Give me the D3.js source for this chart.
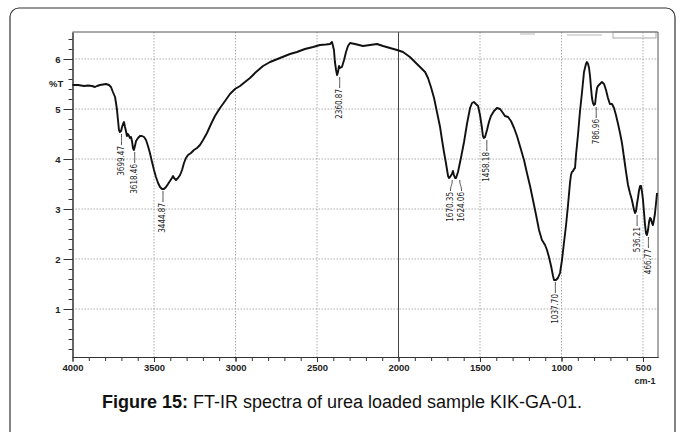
<!DOCTYPE html>
<html>
<head>
<meta charset="utf-8">
<script src="https://cdn.jsdelivr.net/npm/d3@7"></script>
<style>
body { margin: 0; background: #fff; }
svg { display: block; font-family: "Liberation Sans", Arial, sans-serif; }
</style>
</head>
<body>
<div class="svg-container"></div>
<script>
// spectrum: wavenumber (cm-1) and %T
var wavenumber = [4000, 3966, 3929, 3905, 3880, 3862, 3850, 3831, 3813, 3794, 3776, 3764, 3752, 3739, 3733, 3727, 3721, 3715, 3709, 3702,
    3696, 3690, 3684, 3678, 3672, 3666, 3660, 3653, 3647, 3641, 3635, 3629, 3623, 3617, 3610, 3598, 3586, 3574, 3561, 3549,
    3537, 3525, 3512, 3500, 3488, 3475, 3463, 3451, 3439, 3426, 3414, 3402, 3390, 3383, 3377, 3365, 3353, 3340, 3328, 3316,
    3304, 3291, 3273, 3255, 3236, 3218, 3199, 3175, 3150, 3126, 3095, 3064, 3034, 3003, 2972, 2942, 2911, 2874, 2831, 2788,
    2727, 2666, 2623, 2574, 2524, 2482, 2445, 2420, 2408, 2396, 2390, 2383, 2377, 2371, 2365, 2359, 2347, 2334, 2322, 2310,
    2297, 2267, 2218, 2175, 2132, 2095, 2052, 2009, 1972, 1930, 1899, 1868, 1837, 1819, 1801, 1782, 1764, 1745, 1733, 1721,
    1709, 1696, 1690, 1684, 1672, 1666, 1660, 1653, 1647, 1635, 1617, 1598, 1580, 1561, 1549, 1537, 1525, 1512, 1500, 1488,
    1482, 1476, 1469, 1457, 1445, 1433, 1414, 1396, 1377, 1359, 1347, 1328, 1310, 1291, 1273, 1255, 1230, 1212, 1193, 1175,
    1156, 1138, 1120, 1101, 1089, 1077, 1064, 1052, 1046, 1034, 1022, 1009, 997, 985, 972, 960, 948, 942, 936, 929,
    923, 917, 911, 899, 887, 874, 862, 850, 844, 837, 831, 825, 819, 813, 807, 801, 794, 788, 782, 776,
    764, 752, 739, 727, 715, 703, 690, 678, 666, 653, 641, 629, 617, 604, 592, 580, 568, 555, 549, 543,
    537, 531, 525, 518, 512, 506, 500, 494, 488, 482, 476, 469, 463, 457, 451, 445, 439, 433, 427, 420, 414];
var transmittance = [5.48, 5.48, 5.46, 5.47, 5.46, 5.44, 5.46, 5.48, 5.49, 5.50, 5.48, 5.44, 5.34, 5.24, 5.12, 4.98, 4.78, 4.58, 4.54, 4.56,
    4.64, 4.70, 4.74, 4.64, 4.56, 4.46, 4.50, 4.46, 4.42, 4.44, 4.36, 4.22, 4.18, 4.26, 4.36, 4.42, 4.46, 4.46, 4.44, 4.38,
    4.26, 4.12, 3.94, 3.78, 3.64, 3.52, 3.44, 3.40, 3.40, 3.44, 3.50, 3.56, 3.62, 3.66, 3.62, 3.58, 3.62, 3.68, 3.78, 3.92,
    4.02, 4.08, 4.12, 4.18, 4.22, 4.28, 4.38, 4.52, 4.70, 4.86, 5.02, 5.16, 5.30, 5.40, 5.46, 5.54, 5.62, 5.74, 5.86, 5.94,
    6.02, 6.10, 6.14, 6.20, 6.24, 6.28, 6.29, 6.30, 6.34, 6.18, 5.94, 5.78, 5.68, 5.74, 5.86, 5.82, 5.84, 5.98, 6.14, 6.26,
    6.32, 6.30, 6.26, 6.28, 6.30, 6.26, 6.22, 6.18, 6.14, 6.04, 5.94, 5.84, 5.74, 5.62, 5.44, 5.22, 4.94, 4.64, 4.38, 4.14,
    3.92, 3.66, 3.62, 3.64, 3.70, 3.76, 3.68, 3.62, 3.62, 3.74, 4.02, 4.34, 4.70, 5.02, 5.12, 5.14, 5.10, 5.06, 4.88, 4.62,
    4.46, 4.42, 4.44, 4.58, 4.74, 4.86, 4.96, 5.02, 5.00, 4.92, 4.86, 4.84, 4.76, 4.62, 4.46, 4.26, 3.98, 3.72, 3.46, 3.18,
    2.88, 2.58, 2.38, 2.28, 2.18, 2.04, 1.86, 1.66, 1.58, 1.58, 1.62, 1.72, 1.98, 2.32, 2.68, 3.08, 3.52, 3.68, 3.74, 3.76,
    3.80, 3.82, 4.08, 4.48, 4.94, 5.34, 5.74, 5.90, 5.94, 5.90, 5.82, 5.66, 5.42, 5.22, 5.12, 5.08, 5.10, 5.28, 5.42, 5.46,
    5.50, 5.54, 5.50, 5.38, 5.22, 5.10, 5.10, 5.02, 4.88, 4.70, 4.52, 4.32, 4.04, 3.74, 3.48, 3.32, 3.18, 2.98, 2.92, 2.96,
    3.10, 3.22, 3.36, 3.46, 3.46, 3.34, 3.18, 2.94, 2.70, 2.52, 2.48, 2.58, 2.74, 2.82, 2.80, 2.72, 2.68, 2.78, 2.90, 3.12, 3.32];

var peakLabels = ["3699.47", "3618.46", "3444.87", "2360.87", "1670.35", "1624.06", "1458.18", "1037.70", "786.96", "536.21", "466.77"];
var peakT = [4.54, 4.18, 3.40, 5.68, 3.62, 3.62, 4.42, 1.58, 5.08, 2.92, 2.48];

var xTickLabels = [4000, 3500, 3000, 2500, 2000, 1500, 1000, 500];
var yTickLabels = [1, 2, 3, 4, 5, 6];

var width = 684,
    height = 432;

var svg = d3.select(".svg-container")
    .append("svg")
    .attr("width", width)
    .attr("height", height);

var plot = {
    left: 72.5,
    right: 658,
    top: 32,
    bottom: 357
}

var xScale = d3.scaleLinear()
    .domain([4000, 408])
    .range([plot.left, plot.right]);

var yScale = d3.scaleLinear()
    .domain([0.04, 6.54])
    .range([plot.bottom, plot.top]);

// outer frame of the figure
svg.append("rect")
    .attr("x", 10)
    .attr("y", 8)
    .attr("width", 665)
    .attr("height", 450)
    .attr("rx", 9)
    .attr("fill", "none")
    .attr("stroke", "#333")
    .attr("stroke-width", 1.2);

var g = svg.append("g");

// dotted grid
g.selectAll(".grid-h").data(yTickLabels).enter().append("line")
    .attr("x1", plot.left).attr("x2", plot.right)
    .attr("y1", d => yScale(d)).attr("y2", d => yScale(d))
    .attr("stroke", "#999")
    .attr("stroke-width", 0.8)
    .attr("stroke-dasharray", "1.5,1.5");

g.selectAll(".grid-v").data(xTickLabels.filter(d => d != 4000)).enter().append("line")
    .attr("x1", d => xScale(d)).attr("x2", d => xScale(d))
    .attr("y1", plot.top).attr("y2", plot.bottom)
    .attr("stroke", d => d == 2000 ? "#444" : "#999")
    .attr("stroke-width", d => d == 2000 ? 1 : 0.8)
    .attr("stroke-dasharray", d => d == 2000 ? null : "1.5,1.5");

// axes
var yMinor = d3.axisLeft(yScale).tickValues(d3.range(2, 65, 2).map(d => d / 10)).tickSize(4).tickSizeOuter(0).tickFormat("");
var yMajor = d3.axisLeft(yScale).tickValues(yTickLabels).tickSize(9).tickSizeOuter(0).tickFormat(d3.format("d"));
var xMinor = d3.axisBottom(xScale).tickValues(d3.range(4000, 499, -100)).tickSize(4).tickSizeOuter(0).tickFormat("");
var xMajor = d3.axisBottom(xScale).tickValues(xTickLabels).tickSize(5).tickSizeOuter(0).tickFormat(d3.format("d"));

g.append("g").attr("transform", `translate(${plot.left},0)`).call(yMinor);
g.append("g").attr("class", "axis-y").attr("transform", `translate(${plot.left},0)`).call(yMajor);
g.append("g").attr("transform", `translate(0,${plot.bottom})`).call(xMinor);
g.append("g").attr("class", "axis-x").attr("transform", `translate(0,${plot.bottom})`).call(xMajor);

g.selectAll(".domain").attr("stroke", "#333");
g.selectAll(".tick line").attr("stroke", "#333");
g.selectAll(".axis-y text, .axis-x text")
    .attr("font-family", "'Liberation Sans', Arial, sans-serif")
    .attr("font-size", 9.5)
    .attr("font-weight", "bold")
    .attr("fill", "#222");
g.select(".axis-y").selectAll("text").attr("x", -12);
g.select(".axis-x").selectAll("text").attr("y", 7);

// top and right border of the plot box
g.append("path")
    .attr("d", `M${plot.left},${plot.top}H${plot.right}V${plot.bottom}`)
    .attr("fill", "none")
    .attr("stroke", "#555")
    .attr("stroke-width", 1);

// little header marks at the top right of the scan
g.append("rect")
    .attr("x", 613).attr("y", plot.top).attr("width", 43).attr("height", 6)
    .attr("fill", "none").attr("stroke", "#888").attr("stroke-width", 0.7);
g.append("line").attr("x1", 520).attr("x2", 535).attr("y1", 34).attr("y2", 34)
    .attr("stroke", "#999").attr("stroke-width", 0.7);
g.append("line").attr("x1", 567).attr("x2", 602).attr("y1", 35).attr("y2", 35)
    .attr("stroke", "#999").attr("stroke-width", 0.7);

g.append("text")
    .attr("x", 49).attr("y", 87)
    .attr("font-size", 9.5).attr("font-weight", "bold").attr("fill", "#222")
    .text("%T");

g.append("text")
    .attr("x", 645).attr("y", 384)
    .attr("text-anchor", "middle")
    .attr("font-size", 9).attr("font-weight", "bold").attr("fill", "#222")
    .text("cm-1");

// spectrum
var spectrum = d3.zip(wavenumber, transmittance);

var line = d3.line()
    .x(d => xScale(d[0]))
    .y(d => yScale(d[1]));

g.append("path")
    .datum(spectrum)
    .attr("d", line)
    .attr("fill", "none")
    .attr("stroke", "#111")
    .attr("stroke-width", 1.9)
    .attr("stroke-linejoin", "round");

// peak labels with leader lines, crowded neighbours pushed apart
var peaks = d3.zip(peakLabels, peakT).map(d => ({
    label: d[0],
    x: xScale(+d[0]),
    y: yScale(d[1]) + 2,
    tx: xScale(+d[0])
}));

peaks.forEach((p, i) => {
    var next = peaks[i + 1];
    if (next && next.x - p.x < 11) {
        var gap = (11 - (next.x - p.x)) / 2;
        p.tx -= gap;
        next.tx += gap;
    }
});

var peak = g.selectAll(".peak").data(peaks).enter().append("g")
    .attr("class", "peak");

peak.append("path")
    .attr("d", d => `M${d.x},${d.y}C${d.x},${d.y + 6} ${d.tx},${d.y + 5} ${d.tx},${d.y + 11}`)
    .attr("fill", "none")
    .attr("stroke", "#222")
    .attr("stroke-width", 0.8);

peak.append("text")
    .attr("transform", d => `translate(${d.tx},${d.y + 12}) rotate(-90)`)
    .attr("text-anchor", "end")
    .attr("dominant-baseline", "central")
    .attr("font-family", "'Liberation Sans Narrow', 'DejaVu Sans Condensed', sans-serif")
    .attr("font-size", 8)
    .attr("fill", "#222")
    .text(d => d.label);

// caption
var caption = svg.append("text")
    .attr("x", 342)
    .attr("y", 408)
    .attr("text-anchor", "middle")
    .attr("font-size", 18)
    .attr("fill", "#111");
caption.append("tspan").attr("font-weight", "bold").text("Figure 15:");
caption.append("tspan").text(" FT-IR spectra of urea loaded sample KIK-GA-01.");
</script>
</body>
</html>
